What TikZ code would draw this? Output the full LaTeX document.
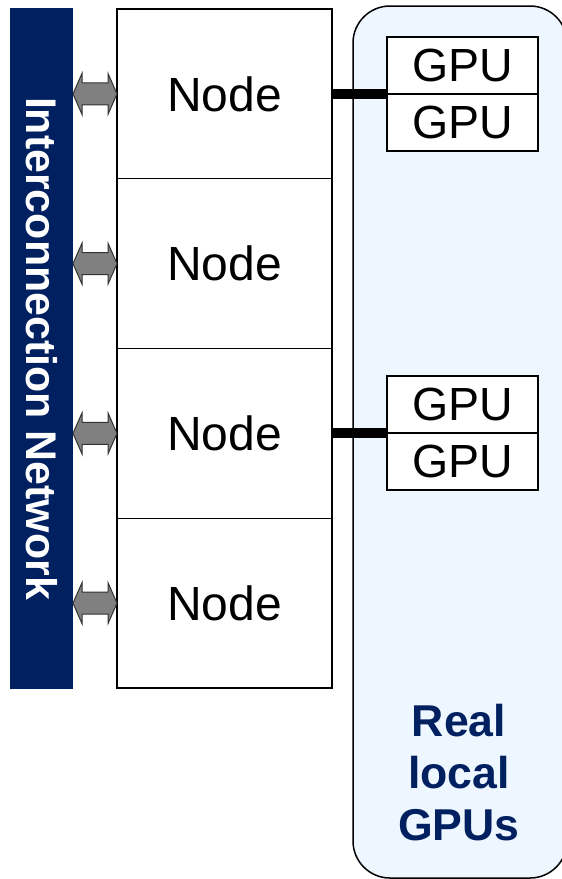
\documentclass[tikz,border=0pt]{standalone}
\usepackage{fontspec}
\setmainfont{Liberation Sans}
\definecolor{navy}{RGB}{0,32,96}
\definecolor{panelfill}{RGB}{238,246,255}
\definecolor{arrowgray}{RGB}{128,128,128}
\definecolor{arrowedge}{RGB}{50,50,50}
\begin{document}
\begin{tikzpicture}[x=1pt,y=-1pt,
  every node/.style={outer sep=0pt},
  netbar/.style={fill=navy, inner sep=0pt, minimum width=681, minimum height=63, rotate=-90,
    text=white, font=\fontsize{42.9}{48}\selectfont\bfseries},
  nodebox/.style={draw=black, line width=1.4pt, minimum width=215, minimum height=169.75,
    inner sep=0pt, font=\fontsize{48}{54}\selectfont},
  gpubox/.style={draw=black, line width=1.4pt, fill=white, minimum width=151, minimum height=57,
    inner sep=0pt, font=\fontsize{46.5}{52}\selectfont},
  panel/.style={draw=black, line width=1.5pt, fill=panelfill, rounded corners=37pt,
    minimum width=214, minimum height=872, inner sep=0pt},
  paneltext/.style={text=navy, align=center, inner sep=0pt,
    font=\fontsize{44.6}{51.7}\selectfont\bfseries},
  dblarrow/.style={fill=arrowgray, draw=arrowedge, line width=1pt, line join=miter},
  link/.style={draw=black, line width=10pt},
  divider/.style={draw=black, line width=1.4pt}
]
\useasboundingbox (0,0) rectangle (562,879);
\clip (0,0) rectangle (562,879);

% panel of real local GPUs
\node[panel] (panel) at (460,442) {};
\node[paneltext] (label) at (459,772.5) {Real\\local\\GPUs};

% interconnection network bar
\node[netbar] (bar) at (41.5,348.5) {Interconnection Network};

% cluster nodes
\node[nodebox] (n1) at (224.5,93.9) {Node};
\node[nodebox, anchor=north] (n2) at (n1.south) {Node};
\node[nodebox, anchor=north] (n3) at (n2.south) {Node};
\node[nodebox, anchor=north] (n4) at (n3.south) {Node};

% GPUs
\node[gpubox] (g1) at (462.5,65.5) {GPU};
\node[gpubox, anchor=north] (g2) at (g1.south) {GPU};
\node[gpubox] (g3) at (462.5,404.5) {GPU};
\node[gpubox, anchor=north] (g4) at (g3.south) {GPU};
\draw[divider] (g1.south west) -- (g1.south east);
\draw[divider] (g3.south west) -- (g3.south east);

% thick links from nodes to GPUs
\draw[link] (n1.east) -- (g1.west |- n1.east);
\draw[link] (n3.east) -- (g3.west |- n3.east);

% double arrows between network and nodes
\foreach \i in {1,...,4} {
  \path (bar.north |- n\i.west) coordinate (a\i);
  \draw[dblarrow] (a\i) -- ++(9,-20.5) -- ++(0,9.5) -- ++(26,0) -- ++(0,-9.5)
    -- (n\i.west) -- ++(-9,20.5) -- ++(0,-9.5) -- ++(-26,0) -- ++(0,9.5) -- cycle;
}
\end{tikzpicture}
\end{document}
